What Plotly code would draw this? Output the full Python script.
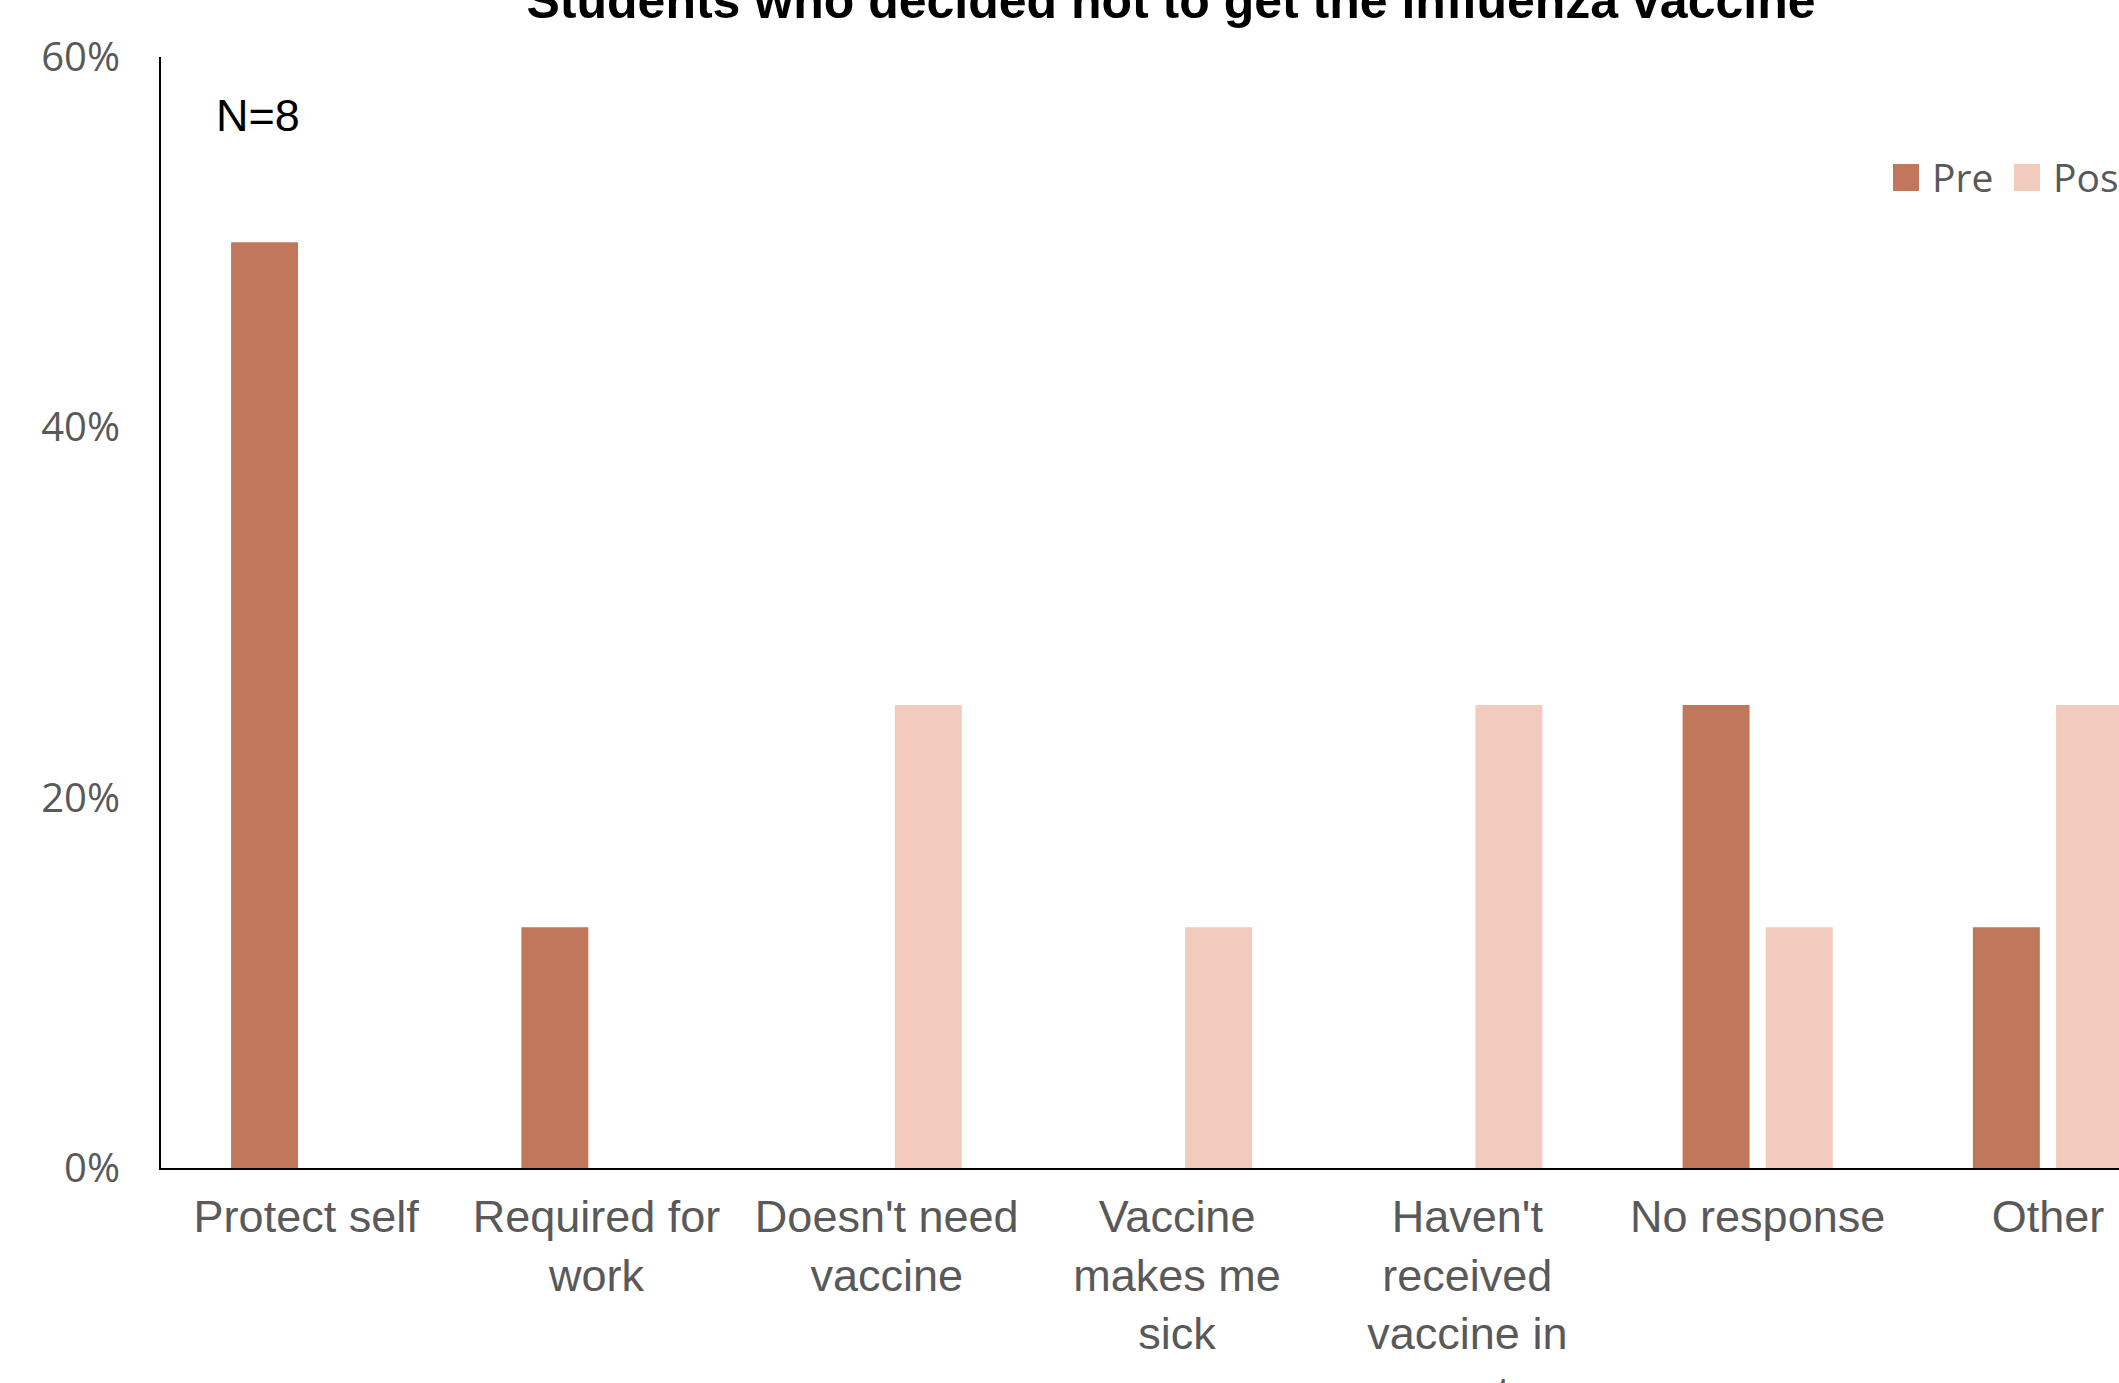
import plotly.graph_objects as go

categories = ["Protect self", "Required for<br>work", "Doesn't need<br>vaccine",
              "Vaccine<br>makes me<br>sick", "Haven't<br>received<br>vaccine in<br>past",
              "No response", "Other"]
pre_values = [50, 13, 0, 0, 0, 25, 13]
post_values = [0, 0, 25, 13, 25, 13, 25]
series_names = ["Pre", "Post"]
series_colors = ["#C0775C", "#F2CBBD"]
y_ticks = [0, 20, 40, 60]
y_ticklabels = ["0%", "20%", "40%", "60%"]

fig = go.Figure()
for name, vals, col in zip(series_names, [pre_values, post_values], series_colors):
    fig.add_trace(go.Bar(x=categories, y=vals, name=name, marker=dict(color=col, line=dict(width=0)),
                         showlegend=False))

W, H = 2119, 1383
L, R, T, B = 161, 0, 57, 215
pw = W - L - R
ph = H - T - B

fig.update_layout(
    width=W, height=H,
    margin=dict(l=L, r=R, t=T, b=B, pad=0, autoexpand=False),
    paper_bgcolor="white", plot_bgcolor="white",
    barmode="group", bargap=0.427, bargroupgap=0.195,
    title=dict(text="<b>Students who decided not to get the influenza vaccine</b>",
               x=(1171) / W, xanchor="center", y=1, yanchor="middle", yref="container",
               font=dict(family="Liberation Sans, Arial", size=50, color="black")),
    font=dict(family="Liberation Sans, Arial"),
)

fig.update_xaxes(range=[-0.5, -0.5 + pw / 290.3], showline=True, linecolor="black", linewidth=2,
                 ticks="", showgrid=False, zeroline=False, automargin=False,
                 ticklabelstandoff=8,
                 tickfont=dict(family="Liberation Sans, Arial", size=45, color="#595959"))
fig.update_yaxes(range=[0, 60], showline=True, linecolor="black", linewidth=2,
                 ticks="", showgrid=False, zeroline=False, automargin=False,
                 tickvals=y_ticks, ticktext=y_ticklabels, ticklabelstandoff=31,
                 tickfont=dict(family="Open Sans", size=40, color="#595959"))

def px_x(p):
    return (p - L) / pw

def px_y(p):
    return (H - B - p) / ph

fig.add_annotation(text="N=8", xref="paper", yref="paper", x=px_x(258), y=px_y(116),
                   showarrow=False, xanchor="center", yanchor="middle",
                   font=dict(family="Liberation Sans, Arial", size=45, color="black"))

legend_x = [1893, 2014]
for name, col, lx in zip(series_names, series_colors, legend_x):
    fig.add_shape(type="rect", xref="paper", yref="paper",
                  x0=px_x(lx), x1=px_x(lx + 26), y0=px_y(191), y1=px_y(164),
                  fillcolor=col, line=dict(width=0))
    fig.add_annotation(text=name, xref="paper", yref="paper", x=px_x(lx + 37), y=px_y(177),
                       showarrow=False, xanchor="left", yanchor="middle",
                       font=dict(family="Open Sans", size=39, color="#595959"))

fig.write_html("out.html")
